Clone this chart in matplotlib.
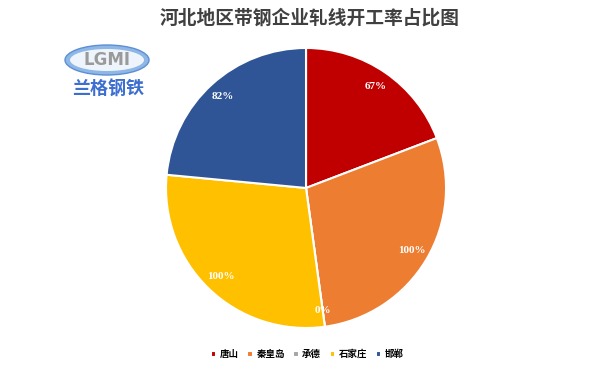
import matplotlib.pyplot as plt
from matplotlib.patches import Ellipse

plt.rcParams['font.family'] = ['Noto Sans CJK SC', 'DejaVu Sans']

cities = ['唐山', '秦皇岛', '承德', '石家庄', '邯郸']
rates = [67, 100, 0, 100, 82]
colors = ['#C00000', '#ED7D31', '#A5A5A5', '#FFC000', '#2F5597']

fig = plt.figure(figsize=(6.11, 3.67), dpi=100)

# pie
ax = fig.add_axes([0.2717, 0.1063, 0.4583, 0.763])
wedges, texts = ax.pie(rates, colors=colors, startangle=90, counterclock=False,
                       radius=1, labels=[f'{r}%' for r in rates], labeldistance=0.88,
                       wedgeprops=dict(edgecolor='white', linewidth=1.5),
                       textprops=dict(color='white', fontsize=8, fontweight='bold',
                                      family='Liberation Serif'))
for t in texts:
    t.set_ha('center')
    t.set_va('center')
ax.set_xlim(-1, 1)
ax.set_ylim(-1, 1)
ax.set_aspect('equal')
ax.axis('off')

fig.text(0.507, 0.95, '河北地区带钢企业轧线开工率占比图', ha='center', va='center',
         fontsize=13.5, fontweight='bold', color='#404040')

# logo
lax = fig.add_axes([0, 0, 1, 1])
lax.set_xlim(0, 611)
lax.set_ylim(367, 0)
lax.axis('off')
lax.add_patch(Ellipse((107, 60), 84, 30, facecolor='#8fb7e6', edgecolor='#5d8fd6', lw=1))
lax.add_patch(Ellipse((107, 60), 74, 22, facecolor='#eef4fb', edgecolor='none'))
lax.text(107, 60, 'LGMI', ha='center', va='center', fontsize=12, color='#9a9a9a',
         fontweight='bold', family='DejaVu Sans')
lax.text(108, 89, '兰格钢铁', ha='center', va='center', fontsize=13, color='#3d6fd1',
         fontweight='bold', style='italic')

# legend
ax.legend(wedges, cities, loc='center', ncol=5, frameon=False, fontsize=6.8,
          prop=dict(weight='bold', size=6.8),
          handlelength=0.55, handleheight=0.55, handletextpad=0.4, columnspacing=0.9)
leg = ax.get_legend()
leg.set_bbox_to_anchor((0.503, 1 - 354 / 367), transform=fig.transFigure)

fig.savefig('out.png', dpi=100)
